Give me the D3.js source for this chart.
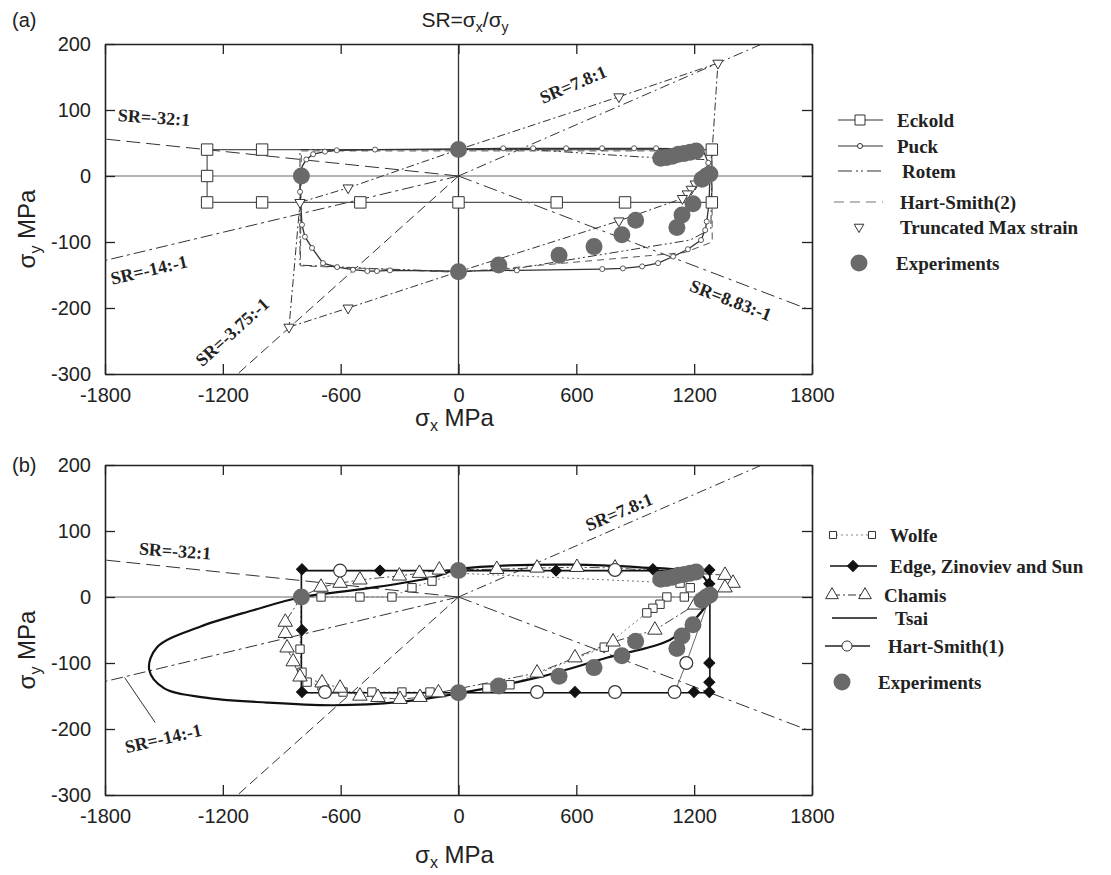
<!DOCTYPE html>
<html>
<head>
<meta charset="utf-8">
<script src="https://cdn.jsdelivr.net/npm/d3@7"></script>
<style>
body { margin: 0; background: #fff; }
text { font-family: "Liberation Sans", Arial, sans-serif; fill: #222; }
.lbl { font-family: "Liberation Serif", "Times New Roman", serif; font-weight: bold; }
</style>
</head>
<body>
<svg id="chart" width="1111" height="875"></svg>
<script>
// values, all in MPa [sigma_x, sigma_y]
var xTicks = [-1800, -1200, -600, 0, 600, 1200, 1800];
var yTicks = [-300, -200, -100, 0, 100, 200];

var experiments = [[0,40],[-800,0],[0,-145],[205,-135],[512,-120],[690,-107],[832,-89],[902,-67],
    [1112,-78],[1138,-59],[1194,-42],[1240,-5],[1262,0],[1280,3],
    [1030,27],[1060,28],[1090,30],[1120,33],[1150,34],[1180,36],[1210,38]];

// SR radial lines (end point away from origin) and labels
var srEnds = [[-1800,56],[1545,200],[-1800,-128],[1800,-204],[-1125,-300]];
var srLabelsA = ['SR=-32:1','SR=7.8:1','SR=-14:-1','SR=8.83:-1','SR=-3.75:-1'];
var srLabelPosA = [[-1550,89],[583,139],[-1576,-142],[1387,-188],[-1153,-236]];
var srLabelsB = ['SR=-32:1','SR=7.8:1','SR=-14:-1'];
var srLabelPosB = [[-1443,70],[817,129],[-1504,-214]];
var leaderB = [[-1700,-122],[-1545,-190]];

// panel (a)
var eckold = [[-1280,40],[1290,40],[1290,-40],[-1280,-40],[-1280,40]];
var eckoldPts = [[-1280,40],[-1000,40],[1290,40],[-1280,0],[-1280,-40],[-1000,-40],[-500,-40],
    [0,-40],[500,-40],[848,-40],[1290,-40]];
var puck = [[-805,0],[-795,15],[-775,25],[-740,33],[-680,37],[-620,39],[-425,40],[0,41],[228,42],
    [380,42],[548,42],[731,42],[894,42],[1006,42],[1150,41],[1250,36],[1272,20],[1280,0],[1276,-40],
    [1264,-69],[1256,-82],[1235,-97],[1168,-111],[1093,-122],[1016,-132],[935,-137],[837,-140],
    [732,-141],[297,-143],[0,-144],[-349,-143],[-415,-144],[-464,-144],[-537,-142],[-618,-138],
    [-690,-132],[-746,-109],[-782,-92],[-797,-74],[-807,-24],[-805,0]];
var puckPts = [[-775,25],[-740,33],[-680,37],[-620,39],[-425,40],[228,42],[380,42],[548,42],[731,42],
    [894,42],[1006,42],[1272,20],[1264,-69],[1256,-82],[1235,-97],[1168,-111],[1093,-122],[1016,-132],
    [935,-137],[837,-140],[732,-141],[297,-143],[-349,-143],[-415,-144],[-464,-144],[-537,-142],
    [-618,-138],[-690,-132],[-746,-109],[-782,-92],[-797,-74],[-807,-24]];
var rotem = [[-807,40],[365,40],[924,29],[1250,25],[1290,5],[1285,-80],[1180,-97],[297,-140],
    [0,-145],[-450,-140],[-807,-135],[-807,40]];
var hartSmith2 = [[-800,38],[1290,38],[1292,-100],[1150,-116],[0,-146],[-805,-136],[-800,38]];
var maxStrain = [[-807,-40],[-562,-18],[0,40],[817,120],[1321,171],[1290,30],[1230,-5],[1205,-12],
    [1185,-20],[1165,-27],[1140,-34],[817,-68],[0,-145],[-562,-200],[-863,-229],[-807,-40]];
var maxStrainPts = [[-807,-40],[-562,-18],[817,120],[1321,171],[1230,-5],[1205,-12],[1185,-20],
    [1165,-27],[1140,-34],[817,-68],[-562,-200],[-863,-229]];

// panel (b)
var wolfe = [[-800,0],[-700,0],[-502,0],[-339,0],[-237,14],[-135,24],[0,36],[1128,21],[1180,14],
    [1150,0],[1061,0],[1026,-11],[990,-17],[959,-24],[742,-76],[262,-133],[145,-138],[0,-145],
    [-145,-144],[-288,-144],[-441,-144],[-588,-144],[-695,-135],[-771,-129],[-797,-114],[-807,-79],[-800,0]];
var wolfePts = [[-700,0],[-502,0],[-339,0],[-237,14],[-135,24],[1128,21],[1180,14],[1150,0],[1061,0],
    [1026,-11],[990,-17],[959,-24],[742,-76],[262,-133],[145,-138],[-145,-144],[-288,-144],
    [-441,-144],[-588,-144],[-695,-135],[-771,-129],[-797,-114],[-807,-79]];
var edge = [[-800,40],[1280,40],[1280,-145],[-800,-145],[-800,40]];
var edgePts = [[-797,42],[-400,40],[497,40],[990,42],[1277,41],[1277,20],[1277,-100],[1277,-129],
    [1277,-144],[1199,-144],[593,-144],[-797,-144],[-797,-50]];
var chamis = [[-700,15],[-603,21],[-502,26],[-301,32],[-199,36],[-98,41],[195,42],[400,44],[603,45],
    [797,44],[1357,33],[1398,21],[1357,14],[1204,-12],[1000,-50],[787,-68],[593,-92],[400,-115],
    [-102,-145],[-196,-152],[-298,-155],[-410,-152],[-502,-150],[-603,-138],[-695,-130],[-807,-121],
    [-842,-98],[-873,-77],[-882,-55],[-882,-38],[-800,0],[-700,15]];
var chamisPts = chamis.slice(0, 30);
var tsai = [[1280,0],[1250,30],[1150,40],[924,45],[583,49],[195,47],[0,42],[-129,30],[-466,13],
    [-797,0],[-1045,-20],[-1316,-45],[-1535,-76],[-1575,-110],[-1500,-138],[-1300,-152],[-976,-160],
    [-637,-164],[-298,-159],[0,-146],[415,-121],[755,-92],[1076,-65],[1200,-35]];
var hartSmith1 = [[-800,40],[1280,40],[1280,0],[1160,-100],[1100,-145],[-800,-145],[-800,40]];
var hs1Pts = [[-603,40],[797,41],[1160,-100],[1100,-144],[797,-144],[400,-144],[-680,-144]];

var svg = d3.select('#chart');
var expColor = '#6a6a6a';

var srStyle = [
    {dash: '14,6', angle: 4},
    {dash: '10,4,2,4', angle: -23},
    {dash: '12,4,3,4', angle: -13},
    {dash: '14,5,3,5', angle: 21},
    {dash: '10,5', angle: -42}
];

function drawPanel({top, bottom, name, id}) {
    var x = d3.scaleLinear().domain([-1800, 1800]).range([105, 812]);
    var y = d3.scaleLinear().domain([-300, 200]).range([bottom, top]);
    var g = svg.append('g');

    g.append('clipPath').attr('id', id)
        .append('rect')
        .attr('x', 105).attr('y', top)
        .attr('width', 707).attr('height', bottom - top);

    // zero lines
    g.append('line')
        .attr('x1', x(-1800)).attr('x2', x(1800))
        .attr('y1', y(0)).attr('y2', y(0))
        .style('stroke', '#666').style('stroke-width', 1);
    g.append('line')
        .attr('x1', x(0)).attr('x2', x(0))
        .attr('y1', y(200)).attr('y2', y(-300))
        .style('stroke', '#333').style('stroke-width', 1.3);

    // frame + ticks (inward, all four sides)
    var fmt = function(d) { return String(d); };
    var axes = [
        d3.axisBottom(x).tickValues(xTicks).tickSizeInner(-10).tickSizeOuter(0).tickPadding(14).tickFormat(fmt),
        d3.axisTop(x).tickValues(xTicks).tickSizeInner(-10).tickSizeOuter(0).tickFormat(''),
        d3.axisLeft(y).tickValues(yTicks).tickSizeInner(-10).tickSizeOuter(0).tickPadding(14).tickFormat(fmt),
        d3.axisRight(y).tickValues(yTicks).tickSizeInner(-10).tickSizeOuter(0).tickFormat('')
    ];
    var pos = ['translate(0,' + bottom + ')', 'translate(0,' + top + ')',
               'translate(105,0)', 'translate(812,0)'];
    axes.forEach(function(a, i) {
        var ag = g.append('g').attr('transform', pos[i]).call(a);
        ag.select('.domain').style('stroke', '#222').style('stroke-width', 1.6);
        ag.selectAll('.tick line').style('stroke', '#222').style('stroke-width', 1.3);
        ag.selectAll('.tick text')
            .style('font-family', '"Liberation Sans", Arial, sans-serif')
            .style('font-size', '20px').style('fill', '#222');
    });

    // axis titles
    var xt = g.append('text')
        .attr('x', x(0) - 4).attr('y', bottom + (name == 'a' ? 52 : 68))
        .style('text-anchor', 'middle').style('font-size', '24px');
    xt.append('tspan').text('\u03c3');
    xt.append('tspan').text('x').style('font-size', '16px').attr('dy', 5);
    xt.append('tspan').text(' MPa').attr('dy', -5);

    var yt = g.append('text')
        .attr('transform', 'translate(35,' + (y(-50) + 20) + ') rotate(-90)')
        .style('text-anchor', 'middle').style('font-size', '24px');
    yt.append('tspan').text('\u03c3');
    yt.append('tspan').text('y').style('font-size', '16px').attr('dy', 6);
    yt.append('tspan').text(' MPa').attr('dy', -6);

    g.append('text')
        .attr('x', 12).attr('y', name == 'a' ? 27 : y(200) + 7)
        .style('font-size', '20px')
        .text('(' + name + ')');

    var plot = g.append('g').attr('clip-path', 'url(#' + id + ')');
    return {x: x, y: y, g: g, plot: plot};
}

function path(p, data, opts) {
    var line = d3.line()
        .x(function(d) { return p.x(d[0]); })
        .y(function(d) { return p.y(d[1]); })
        .curve(opts.curve || d3.curveLinear);
    p.plot.append('path')
        .datum(data)
        .attr('d', line)
        .style('fill', 'none')
        .style('stroke', opts.color || '#444')
        .style('stroke-width', opts.width || 1)
        .style('stroke-dasharray', opts.dash || null);
}

function symFor(type) {
    return {square: d3.symbolSquare, triangle: d3.symbolTriangle,
            diamond: d3.symbolSquare, circle: d3.symbolCircle}[type];
}
function rot(type, flip) {
    if (type == 'diamond') return ' rotate(45)';
    return flip ? ' rotate(180)' : '';
}

function marks(p, data, type, opts) {
    p.plot.selectAll(null)
        .data(data)
        .enter()
        .append('path')
        .attr('d', d3.symbol().type(symFor(type)).size(opts.size))
        .attr('transform', function(d) {
            return 'translate(' + p.x(d[0]) + ',' + p.y(d[1]) + ')' + rot(type, opts.flip);
        })
        .style('fill', opts.fill || 'white')
        .style('stroke', opts.stroke || '#333')
        .style('stroke-width', opts.sw || 1);
}

function srLines(p) {
    srEnds.forEach(function(e, i) {
        path(p, [[0, 0], e], {dash: srStyle[i].dash, color: '#333', width: 1});
    });
}

function srLabels(p, labels, posList) {
    labels.forEach(function(t, i) {
        p.g.append('text')
            .attr('class', 'lbl')
            .attr('transform', 'translate(' + p.x(posList[i][0]) + ',' + p.y(posList[i][1]) + ') rotate(' + srStyle[i].angle + ')')
            .attr('dy', '0.35em')
            .style('text-anchor', 'middle')
            .style('font-size', '18px')
            .text(t);
    });
}

function experimentsDots(p) {
    p.plot.selectAll(null)
        .data(experiments)
        .enter()
        .append('circle')
        .attr('cx', function(d) { return p.x(d[0]); })
        .attr('cy', function(d) { return p.y(d[1]); })
        .attr('r', 8.5)
        .style('fill', expColor);
}

// legend helpers (pixel layout)
function legendRow(ly, label, tx, draw) {
    var g = svg.append('g');
    draw(g);
    g.append('text')
        .attr('class', 'lbl')
        .attr('x', tx).attr('y', ly)
        .attr('dy', '0.35em')
        .style('font-size', '19px')
        .text(label);
}
function lseg(g, x1, x2, ly, dash, color, w) {
    g.append('line').attr('x1', x1).attr('x2', x2).attr('y1', ly).attr('y2', ly)
        .style('stroke', color || '#333').style('stroke-width', w || 1.2)
        .style('stroke-dasharray', dash || null);
}
function lsym(g, cx, ly, type, size, fill, flip, stroke) {
    g.append('path')
        .attr('d', d3.symbol().type(symFor(type)).size(size))
        .attr('transform', 'translate(' + cx + ',' + ly + ')' + rot(type, flip))
        .style('fill', fill || 'white').style('stroke', stroke || '#333').style('stroke-width', 1);
}

// title
var title = svg.append('text').attr('x', 465).attr('y', 27)
    .style('text-anchor', 'middle').style('font-size', '21px');
title.append('tspan').text('SR=\u03c3');
title.append('tspan').text('x').style('font-size', '14px').attr('dy', 5);
title.append('tspan').text('/\u03c3').attr('dy', -5);
title.append('tspan').text('y').style('font-size', '14px').attr('dy', 5);

// ---------- panel (a) ----------
var pa = drawPanel({top: 44, bottom: 374, name: 'a', id: 'clipA'});
srLines(pa);
path(pa, eckold, {color: '#555', width: 1.2});
path(pa, rotem, {color: '#333', width: 1, dash: '9,3,2,3,2,3'});
path(pa, hartSmith2, {color: '#555', width: 1, dash: '7,5'});
path(pa, puck, {color: '#333', width: 1.3});
path(pa, maxStrain, {color: '#333', width: 1, dash: '8,3,2,3'});
marks(pa, eckoldPts, 'square', {size: 130, sw: 1});
marks(pa, puckPts, 'circle', {size: 20, sw: 0.8});
marks(pa, maxStrainPts, 'triangle', {size: 45, flip: true, sw: 1});
experimentsDots(pa);
srLabels(pa, srLabelsA, srLabelPosA);

// legend (a)
legendRow(120, 'Eckold', 897, function(g) { lseg(g, 838, 883, 120); lsym(g, 860, 120, 'square', 100); });
legendRow(146, 'Puck', 897, function(g) { lseg(g, 838, 883, 146); lsym(g, 860, 146, 'circle', 20); });
legendRow(171, 'Rotem', 902, function(g) { lseg(g, 838, 883, 171, '14,4,2,3,2,4'); });
legendRow(202, 'Hart-Smith(2)', 900, function(g) { lseg(g, 834, 883, 202, '10,6', '#777'); });
legendRow(227, 'Truncated Max strain', 900, function(g) { lsym(g, 859, 227, 'triangle', 40, 'white', true); });
legendRow(263, 'Experiments', 896, function(g) {
    g.append('circle').attr('cx', 859).attr('cy', 263).attr('r', 8.5).style('fill', expColor);
});

// ---------- panel (b) ----------
var pb = drawPanel({top: 465, bottom: 795, name: 'b', id: 'clipB'});
srLines(pb);
path(pb, wolfe, {color: '#777', width: 1, dash: '2,3'});
path(pb, hartSmith1, {color: '#666', width: 1});
path(pb, chamis, {color: '#444', width: 1, dash: '10,3,2,3'});
path(pb, edge, {color: '#111', width: 1.6});
path(pb, tsai, {color: '#111', width: 2.2, curve: d3.curveCatmullRomClosed});
marks(pb, wolfePts, 'square', {size: 70, sw: 1});
marks(pb, chamisPts, 'triangle', {size: 90, sw: 1});
marks(pb, hs1Pts, 'circle', {size: 130, sw: 1.2});
marks(pb, edgePts, 'diamond', {size: 60, fill: '#111', stroke: '#111'});
experimentsDots(pb);
srLabels(pb, srLabelsB, srLabelPosB);
path(pb, leaderB, {color: '#333', width: 1});

// legend (b)
legendRow(535, 'Wolfe', 890, function(g) {
    lseg(g, 836, 869, 535, '2,3', '#888'); lsym(g, 833, 535, 'square', 50); lsym(g, 872, 535, 'square', 50);
});
legendRow(566, 'Edge, Zinoviev and Sun', 890, function(g) {
    lseg(g, 830, 877, 566, null, '#111', 1.6); lsym(g, 853, 566, 'diamond', 60, '#111', false, '#111');
});
legendRow(595, 'Chamis', 884, function(g) {
    lseg(g, 832, 865, 595, '8,3,2,3'); lsym(g, 832, 595, 'triangle', 70); lsym(g, 865, 595, 'triangle', 70);
});
legendRow(618, 'Tsai', 895, function(g) { lseg(g, 832, 877, 618, null, '#111', 1.6); });
legendRow(646, 'Hart-Smith(1)', 888, function(g) { lseg(g, 825, 870, 646, null, '#222', 1.4); lsym(g, 847, 646, 'circle', 80); });
legendRow(682, 'Experiments', 878, function(g) {
    g.append('circle').attr('cx', 842).attr('cy', 682).attr('r', 8.5).style('fill', expColor);
});
</script>
</body>
</html>
